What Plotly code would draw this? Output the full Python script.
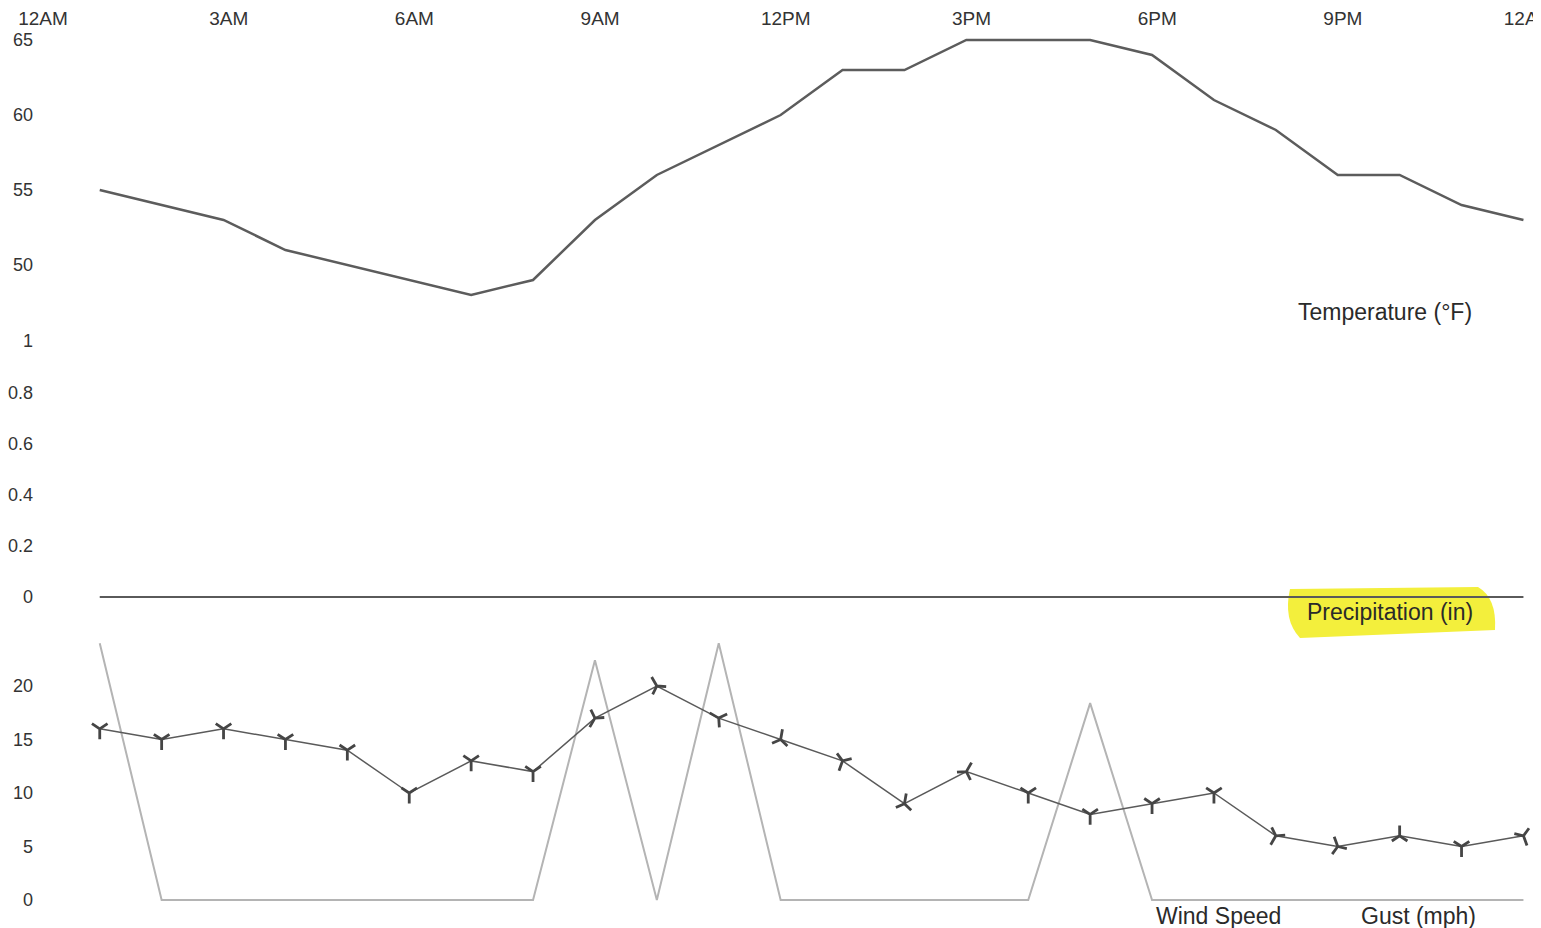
import plotly.graph_objects as go
from plotly.subplots import make_subplots

# ---- data ----
times = ["00:55", "01:55", "02:55", "03:55", "04:55", "05:55", "06:55", "07:55",
         "08:55", "09:55", "10:55", "11:55", "12:55", "13:55", "14:55", "15:55",
         "16:55", "17:55", "18:55", "19:55", "20:55", "21:55", "22:55", "23:55"]
temperature_f = [55, 54, 53, 51, 50, 49, 48, 49, 53, 56, 58, 60,
                 63, 63, 65, 65, 65, 64, 61, 59, 56, 56, 54, 53]
precip_in = [0.0] * 24
wind_mph = [16, 15, 16, 15, 14, 10, 13, 12, 17, 20, 17, 15,
            13, 9, 12, 10, 8, 9, 10, 6, 5, 6, 5, 6]
gust_mph = [24, 0, 0, 0, 0, 0, 0, 0, 22.4, 0, 24, 0,
            0, 0, 0, 0, 18.4, 0, 0, 0, 0, 0, 0, 0]
# rotation of the wind-direction glyph (0 = upright "Y")
wind_arrow_deg = [0, 0, 0, 0, 0, 0, 0, 0, 30, 150, 120, 190,
                  20, 190, 210, 0, 0, 0, 0, 30, 160, 180, 0, -20]

x_tick_hours = [0, 3, 6, 9, 12, 15, 18, 21, 24]
x_tick_labels = ["12AM", "3AM", "6AM", "9AM", "12PM", "3PM", "6PM", "9PM", "12AM"]
temp_ticks = [50, 55, 60, 65]
precip_ticks = [0, 0.2, 0.4, 0.6, 0.8, 1]
precip_tick_labels = ["0", "0.2", "0.4", "0.6", "0.8", "1"]
wind_ticks = [0, 5, 10, 15, 20]

hours = [int(t[:2]) + int(t[3:]) / 60 for t in times]

OFF = 8                     # default page margin of the html body
W, H = 1541 - OFF, 928 - OFF
FONT = "Liberation Sans, Arial, sans-serif"
TXT = "#333333"


def py(sy):   # screen y px -> paper fraction
    return 1 - (sy - OFF) / H


def pxx(sx):  # screen x px -> paper fraction
    return (sx - OFF) / W


fig = make_subplots(rows=3, cols=1, shared_xaxes=False)

fig.add_trace(go.Scatter(x=hours, y=temperature_f, mode="lines",
                         line=dict(color="#5c5c5c", width=2.5),
                         name="Temperature (°F)"), row=1, col=1)
fig.add_trace(go.Scatter(x=hours, y=precip_in, mode="lines",
                         line=dict(color="#5a5a5a", width=2.2),
                         name="Precipitation (in)"), row=2, col=1)
fig.add_trace(go.Scatter(x=hours, y=gust_mph, mode="lines",
                         line=dict(color="#b4b4b4", width=2),
                         name="Gust (mph)"), row=3, col=1)
fig.add_trace(go.Scatter(x=hours, y=wind_mph, mode="lines+markers",
                         line=dict(color="#5a5a5a", width=1.5),
                         marker=dict(symbol="y-down", size=13, angle=wind_arrow_deg,
                                     color="#444444",
                                     line=dict(width=2.8, color="#454545")),
                         name="Wind Speed"), row=3, col=1)

# x geometry (screen px): hour 0 at 43, 61.9 px per hour
x_left = 34
ppx = 61.9
x0 = 43
xr = [(x_left - x0) / ppx, (1541 - x0) / ppx]
xdom = [pxx(x_left), 1]

common_x = dict(range=xr, domain=xdom, showgrid=False, zeroline=False,
                showline=False, ticks="", tickvals=x_tick_hours, automargin=False,
                ticklabeloverflow="allow",
                ticktext=x_tick_labels, tickfont=dict(family=FONT, size=19, color=TXT))
fig.update_layout(
    xaxis=dict(**common_x, side="top", anchor="y"),
    xaxis2=dict(**common_x, matches="x", showticklabels=False, anchor="y2"),
    xaxis3=dict(**common_x, matches="x", showticklabels=False, anchor="y3"),
)

common_y = dict(showgrid=False, zeroline=False, showline=False, ticks="",
                automargin=False, tickfont=dict(family=FONT, size=18, color=TXT))
# temperature: 65 at screen y 40, 15 px per degree
fig.update_layout(
    yaxis=dict(**common_y, domain=[py(300), py(30)],
               range=[65 - (300 - 40) / 15, 65 + (40 - 30) / 15],
               tickvals=temp_ticks),
    yaxis2=dict(**common_y, domain=[py(615), py(320)],
                range=[-(615 - 597) / 256, 1 + (341 - 320) / 256],
                tickvals=precip_ticks, ticktext=precip_tick_labels),
    yaxis3=dict(**common_y, domain=[py(915), py(630)],
                range=[-(915 - 900) / 10.7, (900 - 630) / 10.7],
                tickvals=wind_ticks),
)

# highlighter blob behind "Precipitation (in)"
fig.add_shape(type="path", xref="paper", yref="paper", layer="below",
              path=(f"M {pxx(1290)} {py(589)} L {pxx(1478)} {py(587)} "
                    f"Q {pxx(1497)} {py(598)} {pxx(1495)} {py(630)} "
                    f"L {pxx(1300)} {py(638)} Q {pxx(1283)} {py(620)} {pxx(1290)} {py(589)} Z"),
              fillcolor="#f3ef3c", line=dict(width=0))

ann_font = dict(family=FONT, size=23, color="#2a2a2a")
for txt, sx, sy in [("Temperature (°F)", 1385, 312), ("Precipitation (in)", 1390, 612),
                    ("Wind Speed", 1218, 916), ("Gust (mph)", 1418, 916)]:
    fig.add_annotation(x=pxx(sx), y=py(sy), xref="paper", yref="paper",
                       xanchor="center", yanchor="middle",
                       text=txt, showarrow=False, font=ann_font)

fig.update_layout(width=W, height=H, margin=dict(l=0, r=0, t=0, b=0),
                  paper_bgcolor="white", plot_bgcolor="white",
                  showlegend=False)

fig.write_html("out.html")
